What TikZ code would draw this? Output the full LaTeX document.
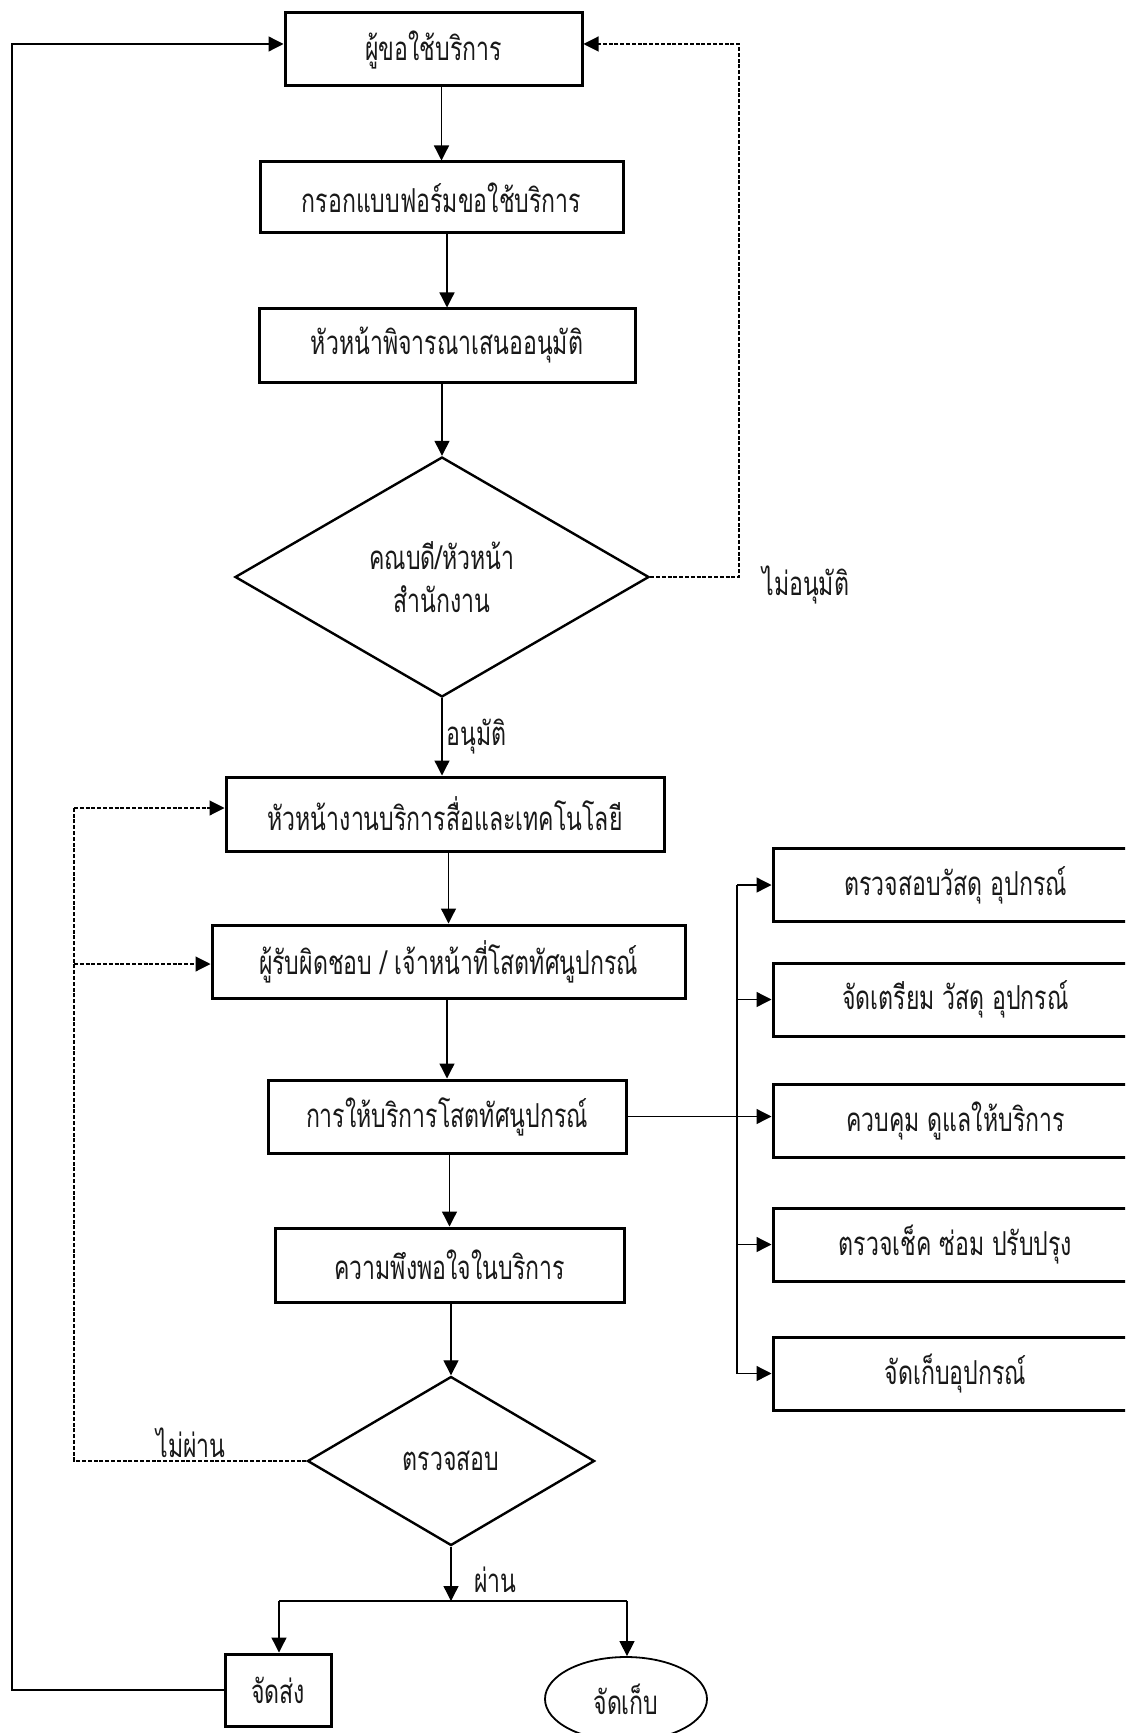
\documentclass[tikz,border=0pt]{standalone}
\usepackage{fontspec}
\newfontfamily\thfont[Script=Thai, FakeStretch=0.70]{Loma}
\usetikzlibrary{shapes.geometric,arrows.meta}
\begin{document}
\begin{tikzpicture}[x=0.5pt,y=-0.5pt,
  every node/.style={font=\thfont\fontsize{16.5}{21.5}\selectfont, text=black!90},
  procbox/.style={draw, line width=1.5pt, rectangle, inner sep=0pt, align=center},
  decision/.style={draw, diamond, line width=1.2pt, inner sep=0pt, align=center},
  arr/.style={line width=0.65pt, -{Triangle[length=7.5pt,width=7.5pt]}},
  link/.style={line width=0.65pt},
  dsh/.style={line width=0.55pt, dash pattern=on 2pt off 0.9pt},
  lbl/.style={inner sep=0pt, anchor=west}
]
\clip (0,0) rectangle (1125,1733);
\fill[white] (0,0) rectangle (1125,1733);

% main column
\node[procbox, minimum width=148.5pt, minimum height=36.5pt] (b1) at (433.5,49.5) {ผู้ขอใช้บริการ};
\node[procbox, minimum width=181.5pt, minimum height=35.5pt] (b2) at (441.5,197.5) {กรอกแบบฟอร์มขอใช้บริการ};
\node[procbox, minimum width=188pt, minimum height=36.5pt] (b3) at (447,345.5) {หัวหน้าพิจารณาเสนออนุมัติ};
\node[decision, minimum width=207pt, minimum height=120pt] (d1) at (442,577) {คณบดี/หัวหน้า\\สำนักงาน};
\node[procbox, minimum width=219pt, minimum height=37pt] (b4) at (445,814) {หัวหน้างานบริการสื่อและเทคโนโลยี};
\node[procbox, minimum width=236.5pt, minimum height=36.5pt] (b5) at (448.5,961.5) {ผู้รับผิดชอบ / เจ้าหน้าที่โสตทัศนูปกรณ์};
\node[procbox, minimum width=179pt, minimum height=36.5pt] (b6) at (447,1116.5) {การให้บริการโสตทัศนูปกรณ์};
\node[procbox, minimum width=174.5pt, minimum height=37pt] (b7) at (449.5,1265) {ความพึงพอใจในบริการ};
\node[decision, minimum width=143.5pt, minimum height=84.5pt] (d2) at (451,1461) {ตรวจสอบ};
\node[procbox, minimum width=53pt, minimum height=36pt] (send) at (278,1690) {จัดส่ง};
\node[draw, ellipse, line width=0.9pt, inner sep=0pt, minimum width=81pt, minimum height=42pt] (store) at (626,1699) {จัดเก็บ};

% service tasks
\node[procbox, minimum width=182.5pt, minimum height=36.5pt] (r1) at (955.5,885) {ตรวจสอบวัสดุ อุปกรณ์};
\node[procbox, minimum width=182.5pt, minimum height=36.5pt] (r2) at (955.5,999.5) {จัดเตรียม วัสดุ อุปกรณ์};
\node[procbox, minimum width=182.5pt, minimum height=36.5pt] (r3) at (955.5,1120.5) {ควบคุม ดูแลให้บริการ};
\node[procbox, minimum width=182.5pt, minimum height=36.5pt] (r4) at (955.5,1244.5) {ตรวจเช็ค ซ่อม ปรับปรุง};
\node[procbox, minimum width=182.5pt, minimum height=36.5pt] (r5) at (955.5,1373.5) {จัดเก็บอุปกรณ์};

% main flow
\draw[arr] (b1.south -| b2.north) -- (b2.north);
\draw[arr] (b2.south -| b3.north) -- (b3.north);
\draw[arr] (b3.south -| d1.north) -- (d1.north);
\draw[arr] (d1.south) -- (d1.south |- b4.north);
\draw[arr] (b4.south -| b5.north) -- (b5.north);
\draw[arr] (b5.south -| b6.north) -- (b6.north);
\draw[arr] (b6.south -| b7.north) -- (b7.north);
\draw[arr] (b7.south -| d2.north) -- (d2.north);

% pass branch
\coordinate (jn) at (451,1601);
\coordinate (jl) at (279,1601);
\coordinate (jr) at (627,1601);
\draw[arr] (d2.south) -- (d2.south |- jn);
\draw[link] (jl) -- (jr);
\draw[arr] (jl) -- (jl |- send.north);
\draw[arr] (jr) -- (jr |- store.north);

% delivery loops back to the requester
\coordinate (loopL) at (12,44);
\draw[arr] (send.west) -| (loopL) -- (loopL -| b1.west);

% not approved
\coordinate (loopR) at (739,44);
\draw[arr, dsh] (d1.east) -| (loopR) -- (loopR -| b1.east);

% failed check
\coordinate (failA) at (74,808);
\coordinate (failB) at (74,964);
\draw[dsh] (d2.west) -| (failA);
\draw[arr, dsh] (failA) -- (failA -| b4.west);
\draw[arr, dsh] (failB) -- (failB -| b5.west);

% service tasks fan-out
\coordinate (sp) at (737,0);
\draw[link] (sp |- r1.west) -- (sp |- r5.west);
\draw[arr] (sp |- r1.west) -- (r1.west);
\draw[arr] (sp |- r2.west) -- (r2.west);
\draw[arr] (sp |- r4.west) -- (r4.west);
\draw[arr] (sp |- r5.west) -- (r5.west);
\draw[arr] (b6.east) -- (b6.east -| r3.west);

% branch labels
\node[lbl] (lapprove) at (446,737) {อนุมัติ};
\node[lbl] (lreject) at (762,585) {ไม่อนุมัติ};
\node[lbl] (lfail) at (156,1443) {ไม่ผ่าน};
\node[lbl] (lpass) at (474,1580) {ผ่าน};
\end{tikzpicture}
\end{document}
